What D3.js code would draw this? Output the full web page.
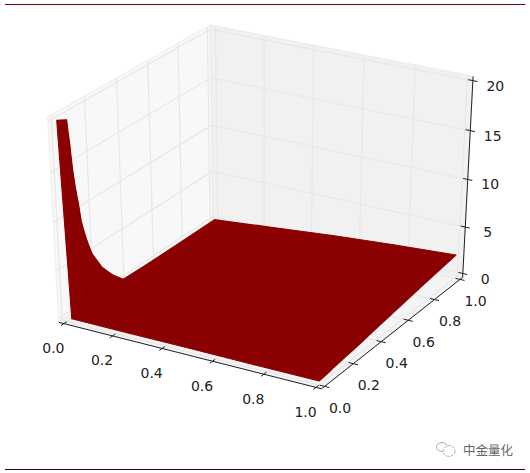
<!DOCTYPE html>
<html><head><meta charset="utf-8">
<script src="https://cdn.jsdelivr.net/npm/d3@7"></script>
<style>html,body{margin:0;padding:0;background:#fff}svg{display:block}
text{font-family:"DejaVu Sans",sans-serif;font-size:14px;fill:#222}</style></head>
<body><svg id="c" width="530" height="473"></svg>
<script>
const xTicks = [0, 0.2, 0.4, 0.6, 0.8, 1.0];
const yTicks = [0, 0.2, 0.4, 0.6, 0.8, 1.0];
const zTicks = [0, 5, 10, 15, 20];
const xGrid = [0, 0.02, 0.25, 0.5, 0.75, 1];
const yGrid = [0, 0.03, 0.057, 0.0675, 0.08, 0.092, 0.1025, 0.117, 0.144, 0.172, 0.233, 0.295, 0.364, 0.5, 0.75, 1];
const zAtX000 = [20, 19.77, 19.54, 17.34, 14.16, 12.2, 10.9, 8.7, 6.6, 4.9, 2.78, 1.34, 0.1, 0.02, 0, 0];
const zAtX002 = [0, 0, 0, 0, 0, 0, 0, 0, 0, 0, 0, 0, 0, 0, 0.01, 0.02];
const zAtX025 = [0, 0, 0, 0, 0, 0, 0, 0, 0, 0, 0.01, 0.02, 0.03, 0.1, 0.3, 0.6];
const zAtX050 = [0, 0, 0, 0, 0, 0.01, 0.01, 0.01, 0.02, 0.03, 0.05, 0.08, 0.13, 0.3, 0.7, 1.2];
const zAtX075 = [0, 0, 0.01, 0.02, 0.03, 0.05, 0.06, 0.07, 0.1, 0.14, 0.2, 0.27, 0.4, 0.6, 1.1, 1.7];
const zAtX100 = [0, 0.05, 0.1, 0.12, 0.16, 0.2, 0.22, 0.25, 0.3, 0.36, 0.45, 0.57, 0.75, 1.05, 1.6, 2.1];
const zRows = [zAtX000, zAtX002, zAtX025, zAtX050, zAtX075, zAtX100];
const watermark = "中金量化";

const svg = d3.select("#c");
const RED = "#8b0000";

// data -> unit cube
const wx = d3.scaleLinear().domain([0, 1]).range([0, 1]);
const wy = d3.scaleLinear().domain([0, 1]).range([0, 1]);
const wz = d3.scaleLinear().domain([0, 20]).range([0, 1]);
const M = 1 / 48; // pane margin in cube units

// camera (elev 30, azim -60, dist 10)
const el = 30 * Math.PI / 180, az = -60 * Math.PI / 180, dist = 10;
const n = [Math.cos(el) * Math.cos(az), Math.cos(el) * Math.sin(az), Math.sin(el)];
const u = [-n[1], n[0], 0].map(d => d / Math.hypot(n[0], n[1]));
const v = [n[1] * u[2] - n[2] * u[1], n[2] * u[0] - n[0] * u[2], n[0] * u[1] - n[1] * u[0]];
const dot = (a, b) => a[0] * b[0] + a[1] * b[1] + a[2] * b[2];
function cam(c) {
  const p = [c[0] - .5, c[1] - .5, c[2] - .5], w = dist - dot(p, n);
  return [dot(p, u) / w, dot(p, v) / w, w];
}
const sx = d3.scaleLinear().domain([cam([0, 0, 0])[0], cam([1, 1, 0])[0]]).range([67, 455]);
const sy = d3.scaleLinear().domain([cam([1, 0, 0])[1], cam([0, 1, 1])[1]]).range([381, 32]);
const P = c => { const q = cam(c); return [sx(q[0]), sy(q[1])]; };
const line = d3.line();

function poly(pts, fill, stroke, sw) {
  svg.append("path").attr("d", line(pts.map(P)) + "Z").attr("fill", fill)
    .attr("stroke", stroke || "none").attr("stroke-width", sw || 0).attr("stroke-linejoin", "round");
}
function seg(a, b, color, w) {
  const p = P(a), q = P(b);
  svg.append("line").attr("x1", p[0]).attr("y1", p[1]).attr("x2", q[0]).attr("y2", q[1])
    .attr("stroke", color).attr("stroke-width", w);
}

// frame rules
svg.append("line").attr("x1", 5).attr("x2", 525).attr("y1", 4.5).attr("y2", 4.5).attr("stroke", "#700000").attr("stroke-width", 1);
svg.append("line").attr("x1", 5).attr("x2", 525).attr("y1", 469.5).attr("y2", 469.5).attr("stroke", "#3a0008").attr("stroke-width", 1);

// panes
const a0 = -M, a1 = 1 + M;
poly([[a0, a0, a0], [a0, a1, a0], [a0, a1, a1], [a0, a0, a1]], "#f8f8f8", "#f1f1f1", 1.5);
poly([[a0, a1, a0], [a1, a1, a0], [a1, a1, a1], [a0, a1, a1]], "#f1f1f1", "#ececec", 1.5);
poly([[a0, a0, a0], [a1, a0, a0], [a1, a1, a0], [a0, a1, a0]], "#f4f4f4", "#eeeeee", 1.5);

// grid
const G = "#e7e7e7";
xTicks.forEach(t => { const c = wx(t);
  seg([c, a0, a0], [c, a1, a0], G, 1.2); seg([c, a1, a0], [c, a1, a1], G, 1.2); });
yTicks.forEach(t => { const c = wy(t);
  seg([a1, c, a0], [a0, c, a0], G, 1.2); seg([a0, c, a0], [a0, c, a1], G, 1.2); });
zTicks.forEach(t => { const c = wz(t);
  seg([a0, a0, c], [a0, a1, c], G, 1.2); seg([a0, a1, c], [a1, a1, c], G, 1.2); });

// surface, back to front
const cells = [];
for (let i = 0; i < xGrid.length - 1; i++) for (let j = 0; j < yGrid.length - 1; j++) {
  const pts = [[i, j], [i + 1, j], [i + 1, j + 1], [i, j + 1]]
    .map(([a, b]) => [wx(xGrid[a]), wy(yGrid[b]), wz(zRows[a][b])]);
  cells.push({ pts, depth: d3.mean(pts, p => cam(p)[2]) });
}
cells.sort((a, b) => b.depth - a.depth).forEach(c => poly(c.pts, RED, RED, 1.1));

// axes
const K = "#222";
seg([a0, a0, a0], [a1, a0, a0], K, 1);
seg([a1, a0, a0], [a1, a1, a0], K, 1);
seg([a1, a1, a0], [a1, a1, a1], K, 1);
const T = 0.018;
function label(pos, dx, dy, s) {
  svg.append("text").attr("x", pos[0] + dx).attr("y", pos[1] + dy).attr("text-anchor", "middle")
    .attr("dominant-baseline", "central").text(s);
}
xTicks.forEach(t => { const c = wx(t);
  seg([c, a0 - T, a0], [c, a0 + T, a0], K, 1);
  label(P([c, a0, a0]), -10.5, 24.5, d3.format(".1f")(t)); });
yTicks.forEach(t => { const c = wy(t);
  seg([a1 - T, c, a0], [a1 + T, c, a0], K, 1);
  label(P([a1, c, a0]), 15.5, 21.5, d3.format(".1f")(t)); });
zTicks.forEach(t => { const c = wz(t);
  seg([a1 - T, a1, c], [a1 + T, a1, c], K, 1);
  label(P([a1, a1, c]), 22.5, 5, String(t)); });

// watermark
const wm = svg.append("g").attr("fill", "none").attr("stroke", "#9a9a9a").attr("stroke-width", 0.8);
wm.append("ellipse").attr("cx", 442).attr("cy", 447).attr("rx", 5.5).attr("ry", 4.5);
wm.append("ellipse").attr("cx", 449).attr("cy", 451).attr("rx", 6).attr("ry", 5.5).attr("fill", "#fff").attr("stroke-dasharray", "3 1.2");
svg.append("text").attr("x", 463).attr("y", 455).attr("textLength", 50)
  .style("font-family", '"Noto Sans CJK SC"').style("font-size", "12.5px").style("fill", "#666").text(watermark);
</script></body></html>
